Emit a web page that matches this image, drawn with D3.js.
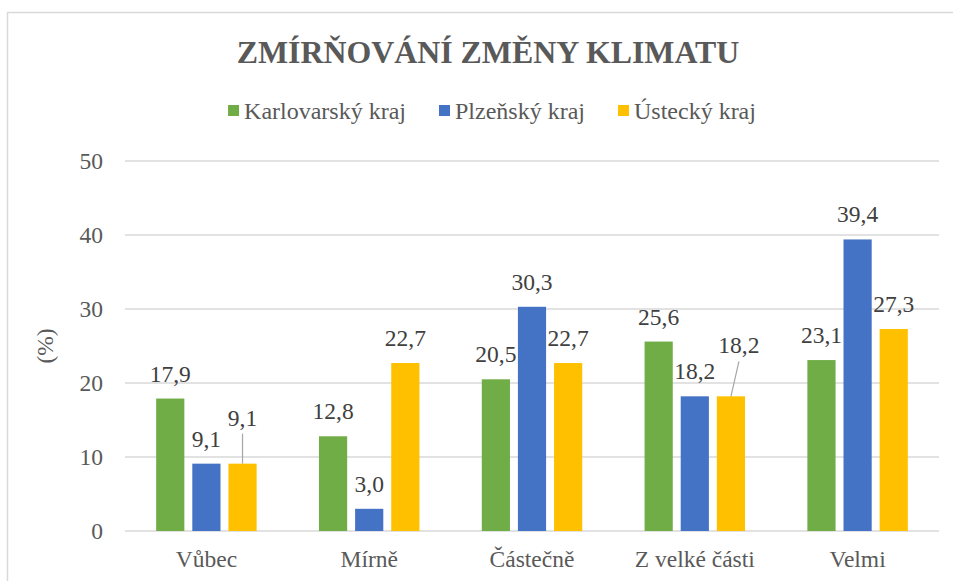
<!DOCTYPE html>
<html>
<head>
<meta charset="utf-8">
<script src="https://cdn.jsdelivr.net/npm/d3@7"></script>
<style>
  body { margin: 0; background: #fff; }
</style>
</head>
<body>
<div id="chart"></div>
<script>
// Chart data
const categories = ['Vůbec', 'Mírně', 'Částečně', 'Z velké části', 'Velmi'];
const seriesNames = ['Karlovarský kraj', 'Plzeňský kraj', 'Ústecký kraj'];
const karlovarsky = [17.9, 12.8, 20.5, 25.6, 23.1];
const plzensky = [9.1, 3.0, 30.3, 18.2, 39.4];
const ustecky = [9.1, 22.7, 22.7, 18.2, 27.3];
const yTicks = [0, 10, 20, 30, 40, 50];
const colors = ['#70AD47', '#4472C4', '#FFC000'];

const seriesValues = [karlovarsky, plzensky, ustecky];
const data = categories.map((c, i) => ({
  category: c,
  values: seriesValues.map((s, k) => ({ key: seriesNames[k], value: s[i], k: k }))
}));

// labels pulled out with a leader line: [categoryIndex, seriesIndex, dx, dy]
const leaders = [[0, 2, 0, -21], [3, 2, 8, -26]];

const FONT = 'Liberation Serif';
const FS = 23.5;
const W = 953, H = 581;
const margin = { top: 161, right: 14, bottom: 50, left: 125 };
const width = W - margin.left - margin.right;
const height = H - margin.top - margin.bottom;

const root = d3.select('#chart').append('svg')
  .attr('width', W)
  .attr('height', H)
  .attr('font-family', FONT);

// chart frame
root.append('rect')
  .attr('x', 7.5).attr('y', 12.5)
  .attr('width', 990).attr('height', 600)
  .attr('fill', 'none')
  .attr('stroke', '#d9d9d9')
  .attr('stroke-width', 1.5);

const cx = 488;

// Title
const title = root.append('text')
  .attr('x', cx)
  .attr('y', 63)
  .attr('text-anchor', 'middle')
  .attr('font-family', FONT)
  .attr('font-size', 31)
  .attr('font-weight', 'bold')
  .attr('fill', '#595959')
  .text('ZMÍRŇOVÁNÍ ZMĚNY KLIMATU');
// fit title to the width seen in the reference (~503px)
const tw = title.node().getComputedTextLength();
title.attr('font-size', 31 * 503 / tw);

// Legend
const legend = root.append('g');
let lx = 0;
seriesNames.forEach((name, i) => {
  const item = legend.append('g').attr('transform', `translate(${lx},0)`);
  item.append('rect')
    .attr('x', 0).attr('y', -14)
    .attr('width', 11).attr('height', 11)
    .attr('fill', colors[i]);
  const t = item.append('text')
    .attr('x', 16).attr('y', 0)
    .attr('font-family', FONT)
    .attr('font-size', 24)
    .attr('fill', '#595959')
    .text(name);
  lx += 16 + t.node().getComputedTextLength() + 33;
});
const legendW = lx - 33;
legend.attr('transform', `translate(${492 - legendW / 2},119)`);

const svg = root.append('g')
  .attr('transform', `translate(${margin.left},${margin.top})`);

// Scales
const x0 = d3.scaleBand()
  .domain(categories)
  .range([0, width])
  .padding(0);

const groupW = x0.bandwidth() * 0.617;
const x1 = d3.scaleBand()
  .domain(d3.range(3))
  .range([(x0.bandwidth() - groupW) / 2, (x0.bandwidth() + groupW) / 2])
  .paddingInner(0.22)
  .paddingOuter(0);

const y = d3.scaleLinear()
  .domain([0, 50])
  .range([height, 0]);

// Gridlines
svg.selectAll('.grid')
  .data(yTicks)
  .enter().append('line')
  .attr('x1', 0).attr('x2', width)
  .attr('y1', d => y(d)).attr('y2', d => y(d))
  .attr('stroke', '#d9d9d9')
  .attr('stroke-width', 1.3);

// Y axis labels
const yAxis = svg.append('g')
  .call(d3.axisLeft(y).tickValues(yTicks).tickSize(0).tickPadding(22))
  .attr('font-family', FONT)
  .attr('font-size', FS);
yAxis.select('.domain').remove();
yAxis.selectAll('text')
  .attr('fill', '#595959');

// Y axis title
svg.append('text')
  .attr('transform', 'rotate(-90)')
  .attr('x', -height / 2)
  .attr('y', 45 - margin.left)
  .attr('dy', '0.35em')
  .attr('text-anchor', 'middle')
  .attr('font-family', FONT)
  .attr('font-size', FS)
  .attr('fill', '#595959')
  .text('(%)');

// X axis labels
const xAxis = svg.append('g')
  .attr('transform', `translate(0,${height})`)
  .call(d3.axisBottom(x0).tickSize(0).tickPadding(19))
  .attr('font-family', FONT)
  .attr('font-size', FS);
xAxis.select('.domain').remove();
xAxis.selectAll('text')
  .attr('fill', '#595959');

// Bars
const groups = svg.selectAll('.group')
  .data(data)
  .enter().append('g')
  .attr('class', 'group')
  .attr('transform', d => `translate(${x0(d.category)},0)`);

groups.selectAll('rect')
  .data(d => d.values)
  .enter().append('rect')
  .attr('x', d => x1(d.k))
  .attr('width', x1.bandwidth())
  .attr('y', d => y(d.value))
  .attr('height', d => height - y(d.value))
  .attr('fill', d => colors[d.k]);

// Data labels
const fmt = v => d3.format('.1f')(v).replace('.', ',');
groups.each(function (d, ci) {
  const g = d3.select(this);
  d.values.forEach(v => {
    const lead = leaders.find(l => l[0] === ci && l[1] === v.k);
    const bx = x1(v.k) + x1.bandwidth() / 2;
    const by = y(v.value);
    let tx = bx, ty = by - 17;
    if (lead) {
      tx = bx + lead[2];
      ty = by - 17 + lead[3];
      g.append('line')
        .attr('x1', tx).attr('y1', ty + 8)
        .attr('x2', bx).attr('y2', by)
        .attr('stroke', '#a6a6a6')
        .attr('stroke-width', 1.2);
    }
    g.append('text')
      .attr('x', tx)
      .attr('y', ty)
      .attr('text-anchor', 'middle')
      .attr('font-family', FONT)
      .attr('font-size', FS)
      .attr('fill', '#404040')
      .text(fmt(v.value));
  });
});
</script>
</body>
</html>
